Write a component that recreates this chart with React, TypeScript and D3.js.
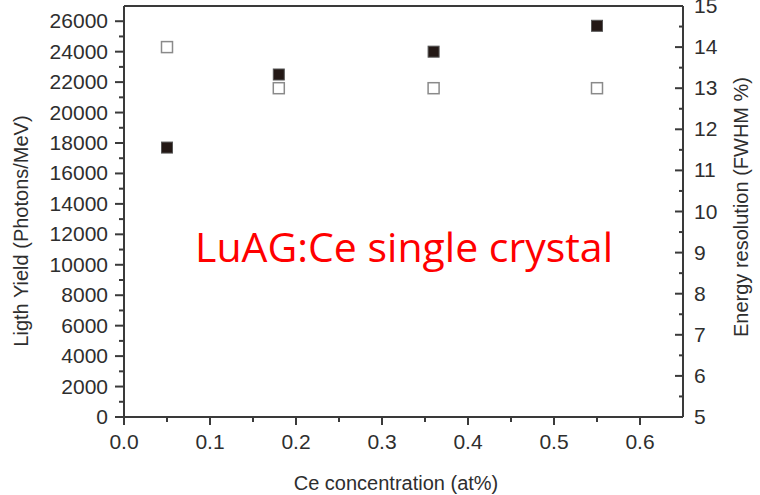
import React from "react";
import * as d3 from "d3";

const concentration = [0.05, 0.18, 0.36, 0.55];
const lightYield = [17700, 22500, 24000, 25700];
const energyResolution = [14, 13, 13, 13];
const xTicks = [0, 0.1, 0.2, 0.3, 0.4, 0.5, 0.6];
const yLeftTicks = d3.range(0, 26001, 2000);
const yRightTicks = d3.range(5, 16, 1);

const W = 760, H = 495;
const L = 124, R = 683, T = 6, B = 417;

export default function App() {
  const x = d3.scaleLinear().domain([0, 0.65]).range([L, R]);
  const yL = d3.scaleLinear().domain([0, 27000]).range([B, T]);
  const yR = d3.scaleLinear().domain([5, 15]).range([B, T]);
  const axisColor = "#3a3a3a";
  const textColor = "#2e2e2e";
  const font = "'Liberation Sans', Arial, sans-serif";
  const sq = 11;
  const xMinor = d3.range(0.05, 0.65, 0.1);
  const yLMinor = d3.range(1000, 27000, 2000);
  const yRMinor = d3.range(5.5, 15, 1);

  return (
    <svg width={W} height={H} style={{ position: "absolute", left: 0, top: 0, background: "#fff" }}>
      <rect x={0} y={0} width={W} height={H} fill="#fff" />
      {/* frame */}
      <line x1={L} x2={R} y1={T} y2={T} stroke={axisColor} strokeWidth={2} />
      <line x1={L} x2={R} y1={B} y2={B} stroke={axisColor} strokeWidth={2} />
      <line x1={L} x2={L} y1={T} y2={B} stroke={axisColor} strokeWidth={2} />
      <line x1={R} x2={R} y1={T} y2={B} stroke={axisColor} strokeWidth={2} />

      {/* bottom ticks */}
      {xTicks.map((t) => (
        <g key={"xt" + t}>
          <line x1={x(t)} x2={x(t)} y1={B} y2={B + 8} stroke={axisColor} strokeWidth={2} />
          <text x={x(t)} y={449} textAnchor="middle" fontSize={21} fill={textColor} fontFamily={font}>
            {t.toFixed(1)}
          </text>
        </g>
      ))}
      {xMinor.map((t) => (
        <line key={"xm" + t} x1={x(t)} x2={x(t)} y1={B} y2={B + 5} stroke={axisColor} strokeWidth={2} />
      ))}

      {/* left ticks */}
      {yLeftTicks.map((t) => (
        <g key={"yl" + t}>
          <line x1={L - 9} x2={L} y1={yL(t)} y2={yL(t)} stroke={axisColor} strokeWidth={2} />
          <text x={108} y={yL(t) + 7} textAnchor="end" fontSize={21} fill={textColor} fontFamily={font}>
            {t}
          </text>
        </g>
      ))}
      {yLMinor.map((t) => (
        <line key={"ylm" + t} x1={L - 5} x2={L} y1={yL(t)} y2={yL(t)} stroke={axisColor} strokeWidth={2} />
      ))}

      {/* right ticks (inward) */}
      {yRightTicks.map((t) => (
        <g key={"yr" + t}>
          <line x1={R - 8} x2={R} y1={yR(t)} y2={yR(t)} stroke={axisColor} strokeWidth={2} />
          <text x={694} y={yR(t) + 7} textAnchor="start" fontSize={21} fill={textColor} fontFamily={font}>
            {t}
          </text>
        </g>
      ))}
      {yRMinor.map((t) => (
        <line key={"yrm" + t} x1={R - 4} x2={R} y1={yR(t)} y2={yR(t)} stroke={axisColor} strokeWidth={2} />
      ))}

      {/* axis titles */}
      <text x={396} y={490} textAnchor="middle" fontSize={20} fill={textColor} fontFamily={font}>
        Ce concentration (at%)
      </text>
      <text transform={`translate(28,${231}) rotate(-90)`} textAnchor="middle" fontSize={20} fill={textColor} fontFamily={font}>
        Ligth Yield (Photons/MeV)
      </text>
      <text transform={`translate(748,${207}) rotate(-90)`} textAnchor="middle" fontSize={20} fill={textColor} fontFamily={font}>
        Energy resolution (FWHM %)
      </text>

      {/* energy resolution: open squares */}
      {concentration.map((c, i) => (
        <rect key={"er" + i} x={x(c) - sq / 2} y={yR(energyResolution[i]) - sq / 2} width={sq} height={sq}
          fill="#fff" stroke="#8a8a8a" strokeWidth={1.5} />
      ))}
      {/* light yield: filled squares */}
      {concentration.map((c, i) => (
        <rect key={"ly" + i} x={x(c) - sq / 2} y={yL(lightYield[i]) - sq / 2} width={sq} height={sq}
          fill="#231815" stroke="#555" strokeWidth={1} />
      ))}

      {/* annotation */}
      <text x={195} y={262} fontSize={40} fill="#ff0000" fontFamily="'Open Sans', sans-serif"
        textLength={418} lengthAdjust="spacingAndGlyphs">
        LuAG:Ce single crystal
      </text>
    </svg>
  );
}
